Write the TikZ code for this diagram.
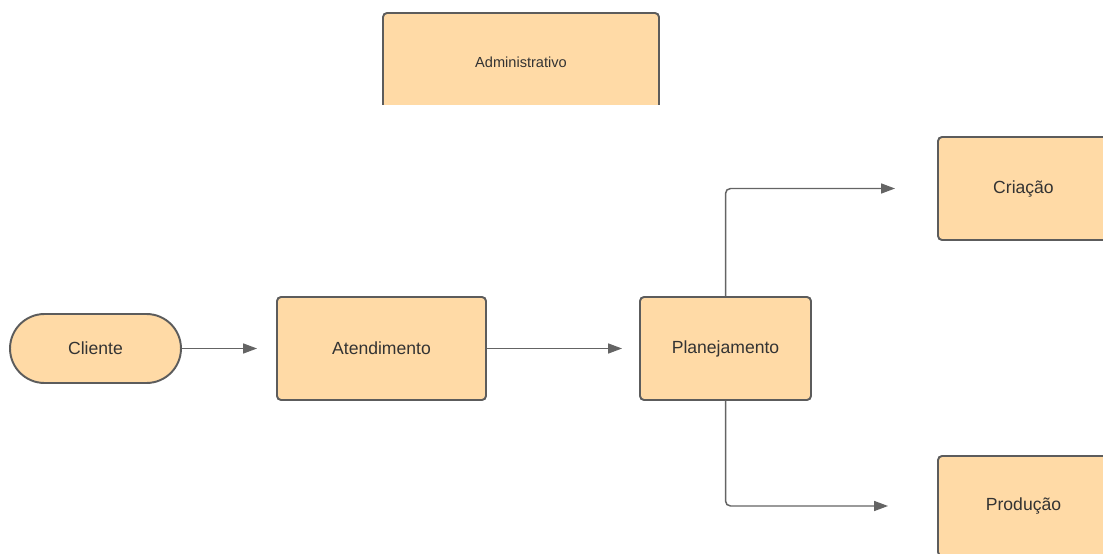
\documentclass[tikz,border=0pt]{standalone}
\usepackage{fontspec}
\setmainfont{Liberation Sans}
\usetikzlibrary{arrows.meta,positioning}
\definecolor{boxfill}{RGB}{255,218,166}
\definecolor{boxline}{RGB}{92,92,92}
\definecolor{flowgray}{RGB}{100,100,100}
\definecolor{txtgray}{RGB}{51,51,51}
\tikzset{
  procbox/.style={draw=boxline, fill=boxfill, line width=1.1pt, rounded corners=0.08cm,
    minimum width=3.42cm, minimum height=2.06cm, inner sep=0pt,
    font=\fontsize{10}{12}\selectfont, text=txtgray},
  termbox/.style={procbox, rounded corners=0.69cm, minimum height=1.38cm},
  flow/.style={-{Triangle[length=0.28cm, width=0.2cm]}, flowgray, line width=0.85pt,
    rounded corners=0.1cm},
}

\begin{document}
\begin{tikzpicture}[x=0.02cm, y=-0.02cm]
  \useasboundingbox (0,0) rectangle (1103,554);
  \clip (0,0) rectangle (1103,554);
  \begin{scope}
    \clip (0,0) rectangle (1103,105);
    \node[procbox, minimum width=5.52cm, minimum height=1.96cm,
      font=\fontsize{8.3}{10}\selectfont] (admin) at (521,62) {Administrativo};
  \end{scope}
  \node[termbox] (cliente) at (95.5,348.5) {Cliente};
  \node[procbox, minimum width=4.18cm] (atend) at (381.5,348.5) {Atendimento};
  \node[procbox] (plan) at (725.5,348.5) {Planejamento};
  \node[procbox] (criacao) at (1023.5,188.5) {Criação};
  \node[procbox, minimum height=2.0cm] (prod) at (1023.5,506) {Produção};
  \draw[flow, shorten >=0.38cm] (cliente.east) -- (atend.west);
  \draw[flow, shorten >=0.34cm] (atend.east) -- (plan.west);
  \draw[flow, shorten >=0.84cm] (plan.north) |- (criacao.west);
  \draw[flow, shorten >=0.98cm] (plan.south) |- (prod.west);
\end{tikzpicture}
\end{document}
